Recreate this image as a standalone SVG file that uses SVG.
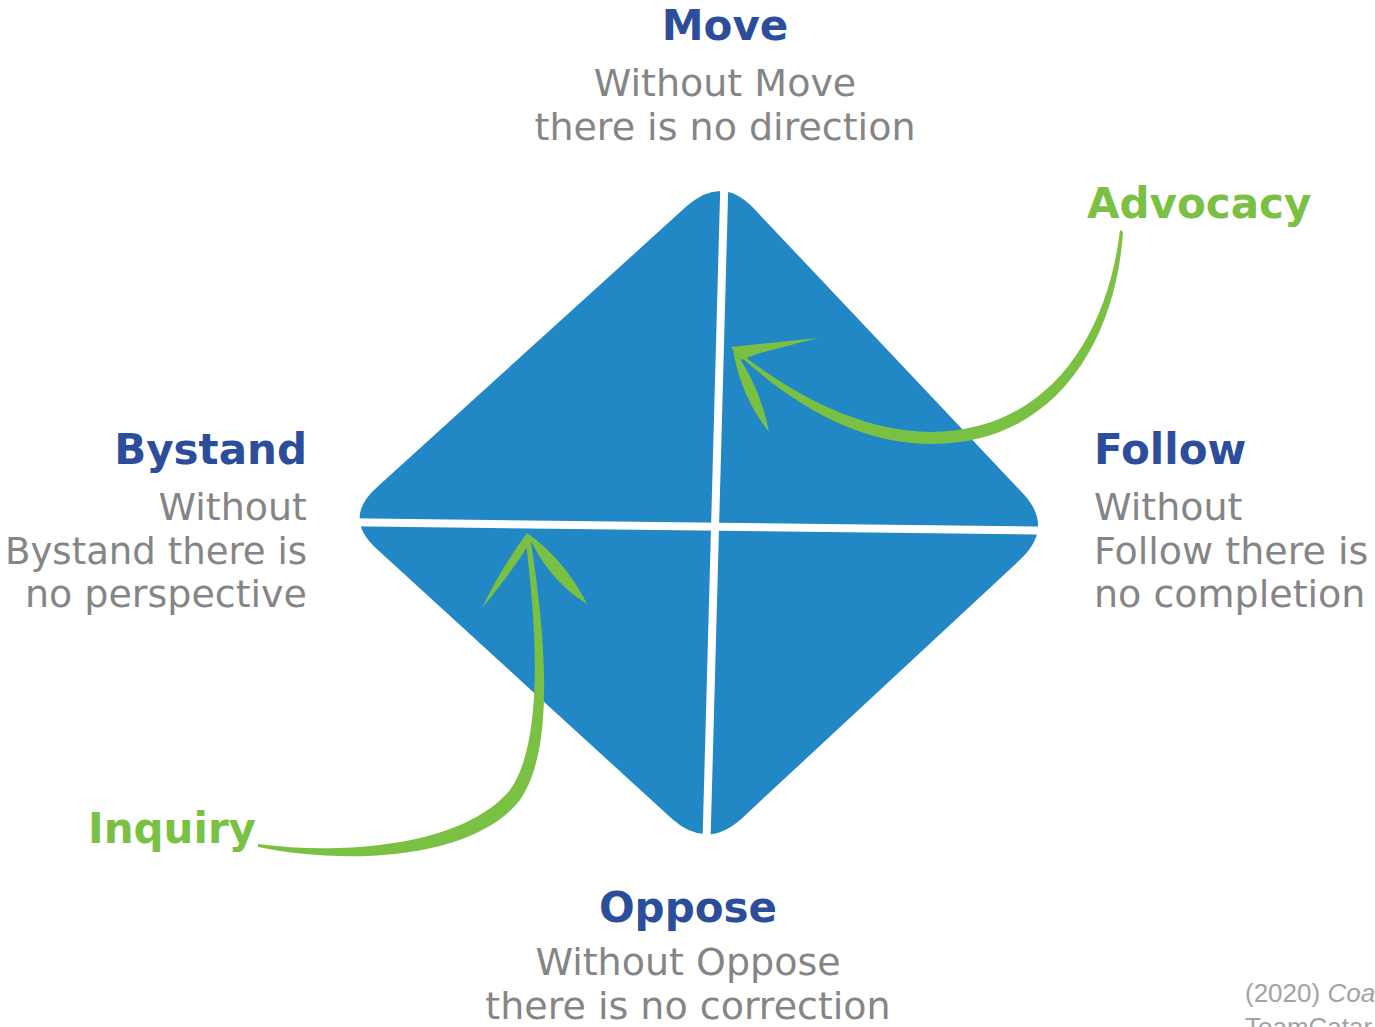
<svg xmlns="http://www.w3.org/2000/svg" width="1375" height="1027" viewBox="0 0 1375 1027">
<style>
.title{font-family:"DejaVu Sans",sans-serif;font-weight:bold;font-size:42px;fill:#2c4e9a}
.sub{font-family:"DejaVu Sans",sans-serif;font-size:38px;fill:#858585}
.green{font-family:"DejaVu Sans",sans-serif;font-weight:bold;font-size:42px;fill:#7ac143}
.cite{font-family:"Liberation Sans",Arial,sans-serif;font-size:26px;fill:#a3a3a3}
.arrow{fill:#7ac143}
.gap{stroke:#ffffff;stroke-width:8;fill:none}
</style>
<rect width="1375" height="1027" fill="#ffffff"/>
<g id="diamond">
<path d="M752.9,207.5 L1022.1,492.5 Q1055,527 1020.2,559.6 L741.8,818.4 Q707,850 671.9,818.7 L377.1,549.3 Q342,518 377.2,486.9 L686.8,206.1 Q722,175 752.9,207.5 Z" fill="#2188c5"/>
<line class="gap" x1="725" y1="160" x2="706" y2="860"/>
<line class="gap" x1="330" y1="522" x2="1070" y2="531"/>
</g>
<g id="move">
<text class="title" x="725" y="40" text-anchor="middle">Move</text>
<text class="sub" x="725" y="96" text-anchor="middle">Without Move</text>
<text class="sub" x="725" y="140" text-anchor="middle">there is no direction</text>
</g>
<g id="bystand">
<text class="title" x="307" y="464" text-anchor="end">Bystand</text>
<text class="sub" x="307" y="520" text-anchor="end">Without</text>
<text class="sub" x="307" y="564" text-anchor="end" textLength="302" lengthAdjust="spacingAndGlyphs">Bystand there is</text>
<text class="sub" x="307" y="607" text-anchor="end">no perspective</text>
</g>
<g id="follow">
<text class="title" x="1094" y="464">Follow</text>
<text class="sub" x="1094" y="520">Without</text>
<text class="sub" x="1094" y="564">Follow there is</text>
<text class="sub" x="1094" y="607">no completion</text>
</g>
<g id="oppose">
<text class="title" x="688" y="922" text-anchor="middle">Oppose</text>
<text class="sub" x="688" y="975" text-anchor="middle">Without Oppose</text>
<text class="sub" x="688" y="1019" text-anchor="middle">there is no correction</text>
</g>
<g id="advocacy">
<text class="green" x="1087" y="218">Advocacy</text>
</g>
<g id="inquiry">
<text class="green" x="88" y="843">Inquiry</text>
</g>
<g id="connectors">
<path class="arrow" d="M1120,230 C1108,335 1048,432 930,432 C862,431 795,397 735,349 L740,356 C797,408 862,444 932,444 C1056,444 1116,340 1123,232 Z"/>
<path class="arrow" d="M731,347 L818,338 L760,353 L741,360 Z"/>
<path class="arrow" d="M733,349 Q760,385 769,432 Q740,395 733,349 Z"/>
<path class="arrow" d="M258,844 C350,856 465,844 510,790 C540,748 540,650 525,536 L530,536 C548,650 553,752 520,800 C475,858 350,866 258,847 Z"/>
<path class="arrow" d="M527,533 Q500,570 482,608 Q510,575 531,541 Z"/>
<path class="arrow" d="M527,533 Q565,560 587,604 Q548,580 527,533 Z"/>
</g>
<g id="citation">
<text class="cite" x="1245" y="1002">(2020) <tspan font-style="italic">Coa</tspan></text>
<text class="cite" x="1245" y="1036">TeamCatar</text>
</g>
</svg>
